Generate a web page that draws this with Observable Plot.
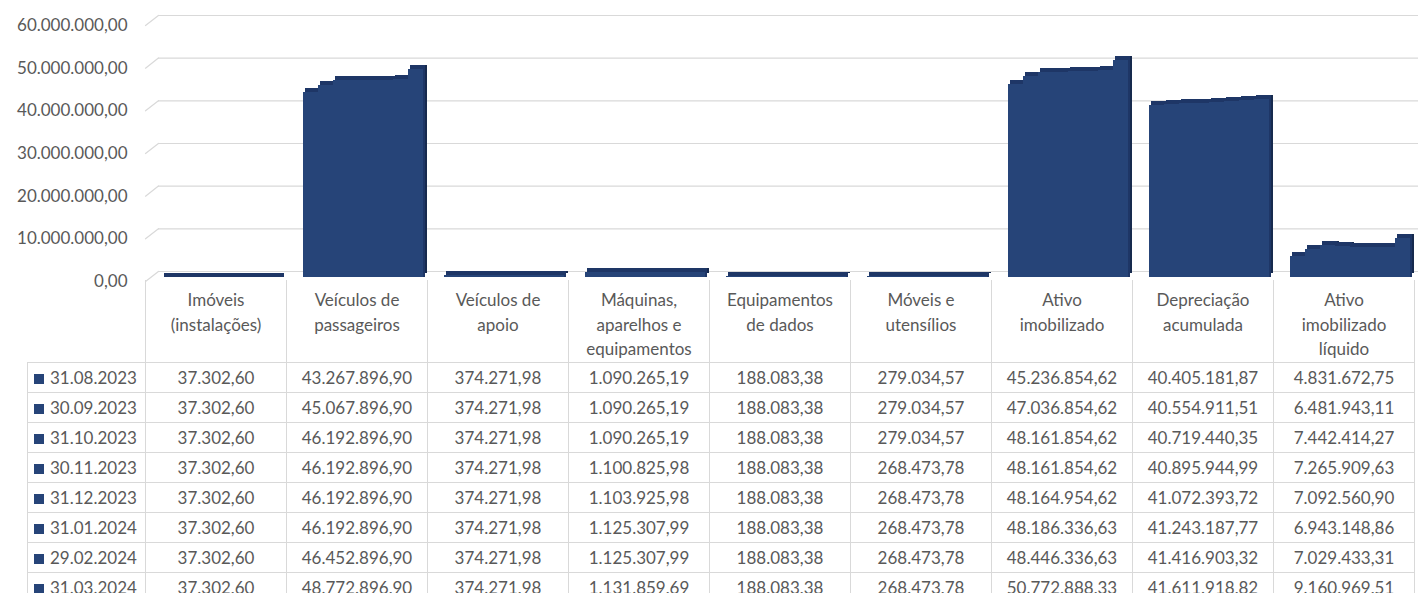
<!DOCTYPE html>
<html lang="pt-BR">
<head>
<meta charset="utf-8">
<script src="https://cdn.jsdelivr.net/npm/d3@7"></script>
<script src="https://cdn.jsdelivr.net/npm/@observablehq/plot@0.6"></script>
<style>
  html, body { margin: 0; padding: 0; background: #fff; }
  #wrap { position: relative; width: 1418px; height: 593px; overflow: hidden; font-family: Lato, "Noto Sans", sans-serif; color: #595959; }
  #chart { position: absolute; left: 0; top: 0; }
  table.dt { position: absolute; left: 27px; top: 280px; border-collapse: collapse; table-layout: fixed; font-size: 17px; color: #595959; }
  table.dt th { font-weight: normal; vertical-align: top; padding: 8px 0 0 0; height: 72px; line-height: 24.5px; white-space: pre-line; text-align: center; border-left: 1px solid #d9d9d9; border-right: 1px solid #d9d9d9; }
  table.dt th.blank { border: none; }
  table.dt td { border: 1px solid #d9d9d9; height: 29px; line-height: 29px; padding: 0; text-align: center; white-space: nowrap; }
  table.dt td.leg { text-align: left; padding-left: 6px; }
  .mk { display: inline-block; width: 10px; height: 10px; background: #264478; margin-right: 6px; vertical-align: 0px; }
</style>
</head>
<body>
<div id="wrap">
  <div id="chart"></div>
</div>
<script>
// ---- data ----
const categories = [
  "Imóveis\n(instalações)",
  "Veículos de\npassageiros",
  "Veículos de\napoio",
  "Máquinas,\naparelhos e\nequipamentos",
  "Equipamentos\nde dados",
  "Móveis e\nutensílios",
  "Ativo\nimobilizado",
  "Depreciação\nacumulada",
  "Ativo\nimobilizado\nlíquido"
];
const dates = ["31.08.2023", "30.09.2023", "31.10.2023", "30.11.2023", "31.12.2023", "31.01.2024", "29.02.2024", "31.03.2024"];

const v_2023_08 = [37302.60, 43267896.90, 374271.98, 1090265.19, 188083.38, 279034.57, 45236854.62, 40405181.87, 4831672.75];
const v_2023_09 = [37302.60, 45067896.90, 374271.98, 1090265.19, 188083.38, 279034.57, 47036854.62, 40554911.51, 6481943.11];
const v_2023_10 = [37302.60, 46192896.90, 374271.98, 1090265.19, 188083.38, 279034.57, 48161854.62, 40719440.35, 7442414.27];
const v_2023_11 = [37302.60, 46192896.90, 374271.98, 1100825.98, 188083.38, 268473.78, 48161854.62, 40895944.99, 7265909.63];
const v_2023_12 = [37302.60, 46192896.90, 374271.98, 1103925.98, 188083.38, 268473.78, 48164954.62, 41072393.72, 7092560.90];
const v_2024_01 = [37302.60, 46192896.90, 374271.98, 1125307.99, 188083.38, 268473.78, 48186336.63, 41243187.77, 6943148.86];
const v_2024_02 = [37302.60, 46452896.90, 374271.98, 1125307.99, 188083.38, 268473.78, 48446336.63, 41416903.32, 7029433.31];
const v_2024_03 = [37302.60, 48772896.90, 374271.98, 1131859.69, 188083.38, 268473.78, 50772888.33, 41611918.82, 9160969.51];
const seriesValues = [v_2023_08, v_2023_09, v_2023_10, v_2023_11, v_2023_12, v_2024_01, v_2024_02, v_2024_03];

const yTicks = [0, 10000000, 20000000, 30000000, 40000000, 50000000, 60000000];

// ---- build ----
const locale = d3.formatLocale({decimal: ",", thousands: ".", grouping: [3], currency: ["R$", ""]});
const fmt = locale.format(",.2f");

const rows = [];
dates.forEach((d, i) => categories.forEach((c, j) => rows.push({cat: c, date: d, value: seriesValues[i][j]})));

const FRONT = "#264478", TOP = "#1e3666", SIDE = "#172a4e", GRID = "#d9d9d9";

const lineShape = {draw(context, l) { context.moveTo(0, 0); context.lineTo(0, -l); }};

const plot = Plot.plot({
  width: 1418,
  height: 292,
  marginLeft: 145,
  marginRight: 4,
  marginTop: 0,
  marginBottom: 0,
  style: {fontFamily: "Lato, 'Noto Sans', sans-serif", fontSize: "17px", color: "#595959", background: "transparent"},
  fx: {domain: categories, padding: 0, axis: null},
  x: {domain: dates, paddingInner: 0, paddingOuter: 0.7, axis: null},
  y: {domain: [0, 60000000], range: [281, 25], axis: null},
  marks: [
    Plot.ruleY(yTicks, {stroke: GRID, strokeWidth: 1.2, dx: 13, dy: -10}),
    Plot.vector(yTicks, {y: d => d, fx: () => categories[0], frameAnchor: "left", anchor: "start",
      length: 16.4, rotate: 52, shape: lineShape, stroke: GRID, strokeWidth: 1.2, fill: "none"}),
    // side face (depth)
    Plot.barY(rows, {fx: "cat", x: "date", y: "value", fill: SIDE, dx: 10, dy: -8, shapeRendering: "crispEdges"}),
    // top face
    Plot.barY(rows, {fx: "cat", x: "date", y: "value", fill: TOP, dx: 8, dy: -4, insetTop: -4, shapeRendering: "crispEdges"}),
    // front face
    Plot.barY(rows, {fx: "cat", x: "date", y: "value", fill: FRONT, dx: 6, dy: -4, shapeRendering: "crispEdges"}),
    Plot.axisY({ticks: yTicks, tickSize: 0, tickPadding: 18, tickFormat: fmt, fontSize: 17, label: null})
  ]
});
document.getElementById("chart").appendChild(plot);

// ---- data table below the chart ----
const table = document.createElement("table");
table.className = "dt";
const cg = document.createElement("colgroup");
const c0 = document.createElement("col"); c0.style.width = "118px"; cg.appendChild(c0);
categories.forEach(() => { const c = document.createElement("col"); c.style.width = "141px"; cg.appendChild(c); });
table.appendChild(cg);
const hr = document.createElement("tr");
const h0 = document.createElement("th"); h0.className = "blank"; hr.appendChild(h0);
categories.forEach(c => { const th = document.createElement("th"); th.textContent = c; hr.appendChild(th); });
table.appendChild(hr);
dates.forEach((d, i) => {
  const tr = document.createElement("tr");
  const td0 = document.createElement("td"); td0.className = "leg";
  const mk = document.createElement("span"); mk.className = "mk"; td0.appendChild(mk);
  td0.appendChild(document.createTextNode(d));
  tr.appendChild(td0);
  seriesValues[i].forEach(v => { const td = document.createElement("td"); td.textContent = fmt(v); tr.appendChild(td); });
  table.appendChild(tr);
});
document.getElementById("wrap").appendChild(table);
</script>
</body>
</html>
